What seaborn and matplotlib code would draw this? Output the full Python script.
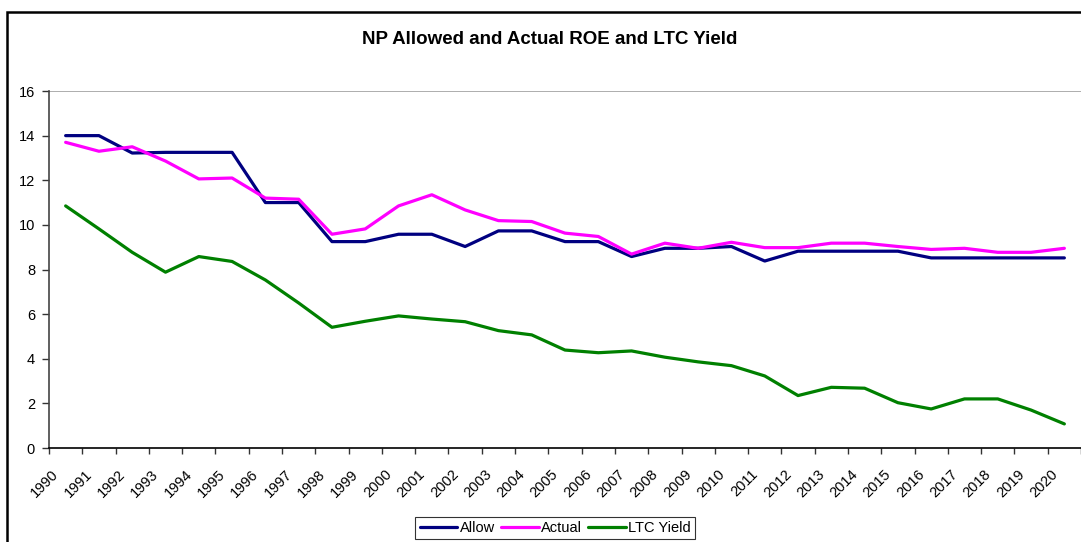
import matplotlib
matplotlib.use("Agg")
import matplotlib.pyplot as plt
from matplotlib.patches import Rectangle
import numpy as np
import pandas as pd
import seaborn as sns

years = [str(y) for y in range(1990, 2021)]
allow = [14.0, 14.0, 13.22, 13.25, 13.25, 13.25, 11.0, 11.0, 9.25, 9.25,
         9.58, 9.58, 9.03, 9.73, 9.73, 9.25, 9.25, 8.58, 8.95, 8.95,
         9.03, 8.38, 8.82, 8.82, 8.82, 8.82, 8.52, 8.52, 8.52, 8.52, 8.52]
actual = [13.7, 13.3, 13.5, 12.86, 12.06, 12.1, 11.2, 11.15, 9.58, 9.82,
          10.85, 11.35, 10.67, 10.19, 10.15, 9.63, 9.48, 8.69, 9.18, 8.95,
          9.22, 8.98, 8.98, 9.18, 9.18, 9.03, 8.9, 8.95, 8.77, 8.77, 8.95]
ltc_yield = [10.85, 9.82, 8.77, 7.88, 8.58, 8.36, 7.53, 6.5, 5.41, 5.68,
             5.92, 5.78, 5.66, 5.26, 5.07, 4.39, 4.27, 4.35, 4.07, 3.86,
             3.69, 3.23, 2.35, 2.72, 2.68, 2.03, 1.75, 2.2, 2.2, 1.7, 1.08]
series_names = ["Allow", "Actual", "LTC Yield"]
colors = ["#000080", "#FF00FF", "#008000"]

sns.set_theme(style="white")
plt.rcParams["font.family"] = ["Liberation Sans", "DejaVu Sans"]
plt.rcParams["text.color"] = "#000000"
plt.rcParams["xtick.color"] = "#000000"
plt.rcParams["ytick.color"] = "#000000"

pos = np.arange(len(years)) + 0.5
df = pd.DataFrame({
    "pos": np.tile(pos, 3),
    "value": allow + actual + ltc_yield,
    "series": np.repeat(series_names, len(years)),
})

fig = plt.figure(figsize=(10.81, 5.42), dpi=100)
ax = fig.add_axes([49 / 1081, 1 - 448 / 542, 1 - 49 / 1081, (448 - 91) / 542])

sns.lineplot(data=df, x="pos", y="value", hue="series", hue_order=series_names,
             palette=colors, linewidth=2.3, ax=ax, legend=False,
             sort=False, estimator=None)

ax.set_xlim(0, len(years))
ax.set_ylim(0, 16)
ax.set_yticks(range(0, 17, 2))
ax.set_yticklabels([str(v) for v in range(0, 17, 2)], fontsize=10.5)
ax.axhline(16, color="#a0a0a0", linewidth=1.2, zorder=0)

# category ticks on boundaries, labels hung below each category
ax.set_xticks(np.arange(len(years) + 1), minor=True)
ax.set_xticks(pos - 0.42)
ax.set_xticklabels(years, fontsize=10.5, rotation=45, ha="right",
                   rotation_mode="anchor")
ax.tick_params(axis="x", which="major", length=0, pad=14)
ax.tick_params(axis="x", which="minor", length=4, width=1, color="#333333",
               direction="out", bottom=True)
ax.tick_params(axis="y", length=5, width=1, color="#333333", direction="out",
               left=True, pad=5)
ax.set_xlabel("")
ax.set_ylabel("")

for side in ["top", "right"]:
    ax.spines[side].set_visible(False)
ax.spines["left"].set_color("#444444")
ax.spines["left"].set_linewidth(1.2)
ax.spines["bottom"].set_color("#000000")
ax.spines["bottom"].set_linewidth(1.2)

fig.text(550 / 1081, 1 - 40 / 542, "NP Allowed and Actual ROE and LTC Yield",
         ha="center", va="center", fontsize=13.5, fontweight="bold")

handles = [plt.Line2D([], [], color=c, linewidth=2.3) for c in colors]
leg = fig.legend(handles, series_names, loc="center",
                 bbox_to_anchor=(555 / 1081, 1 - 528 / 542), ncol=3,
                 fontsize=10.5, frameon=True, fancybox=False, handlelength=2.6,
                 handletextpad=0.15, columnspacing=0.4, borderpad=0.3,
                 borderaxespad=0)
leg.get_frame().set_edgecolor("#000000")
leg.get_frame().set_linewidth(0.8)

fig.patches.append(Rectangle((7.5 / 1081, -0.05), 1.2, 1 - 11.5 / 542 + 0.05,
                             transform=fig.transFigure, fill=False,
                             edgecolor="#000000", linewidth=1.8))

fig.savefig("out.png", dpi=100)
